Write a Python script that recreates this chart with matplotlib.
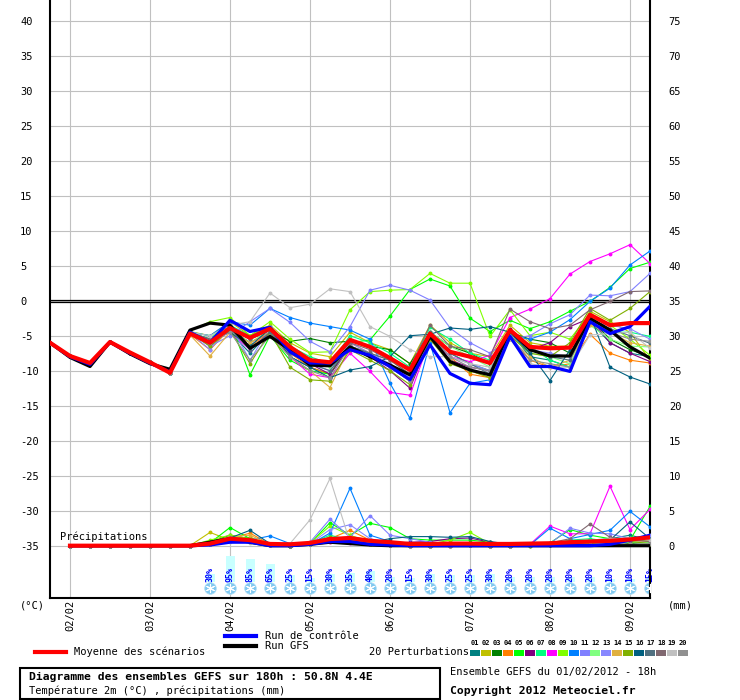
import matplotlib
matplotlib.use("Agg")
import matplotlib.pyplot as plt
from matplotlib.lines import Line2D
from matplotlib.patches import Rectangle

plt.rcParams['font.family'] = ['DejaVu Sans Mono', 'DejaVu Sans']

W, H = 740, 700

# ---------------- data ----------------
temp_ticks = [-35, -30, -25, -20, -15, -10, -5, 0, 5, 10, 15, 20, 25, 30, 35, 40]
mm_ticks = [0, 5, 10, 15, 20, 25, 30, 35, 40, 45, 50, 55, 60, 65, 70, 75]
date_labels = ['02/02', '03/02', '04/02', '05/02', '06/02', '07/02', '08/02', '09/02']
date_steps = [1, 5, 9, 13, 17, 21, 25, 29]

# temperature (6-hourly steps 0..30)
mean_t = [-6.0, -7.9, -8.9, -5.9, -7.4, -8.8, -10.3,
          -4.7, -6.0, -3.9, -5.3, -4.0, -6.6, -8.5, -8.8, -5.6, -6.6, -8.2, -9.9,
          -4.7, -7.3, -8.0, -8.9, -4.2, -6.6, -6.8, -6.7, -2.0, -3.5, -3.2, -3.2]
control_t = [-6.0, -8.0, -9.1, -5.9, -7.5, -8.9, -10.2,
             -4.5, -6.0, -2.8, -4.4, -3.8, -7.3, -8.9, -8.9, -7.0, -7.8, -9.4, -11.3,
             -6.3, -10.4, -11.8, -12.0, -5.1, -9.4, -9.4, -10.1, -3.0, -4.7, -3.7, -0.8]
gfs_t = [-6.0, -8.1, -9.4, -5.9, -7.6, -9.0, -9.8,
         -4.2, -3.2, -3.5, -6.8, -5.1, -7.0, -9.2, -9.3, -6.6, -8.0, -9.2, -10.6,
         -5.1, -8.7, -9.9, -10.6, -4.2, -7.0, -7.9, -7.9, -2.5, -4.2, -6.6, -8.2]

T_START = [-6.0, -7.9, -8.9, -5.9, -7.4, -8.8, -10.3]
p01_t = [-4.6, -5.5, -4.5, -7.5, -4.5, -8.0, -9.5, -10.5, -6.5, -7.5, -9.5, -11.5, -5.0, -7.5, -9.0, -10.0, -4.5, -8.0, -8.5, -9.5, -3.0, -6.0, -7.5, -8.0]
p02_t = [-4.4, -5.0, -3.0, -5.0, -3.5, -6.0, -7.5, -8.0, -4.5, -6.0, -7.0, -9.0, -3.5, -6.0, -7.5, -8.0, -3.5, -6.0, -6.5, -6.5, -1.5, -3.0, -4.5, -8.5]
p03_t = [-4.5, -6.0, -3.8, -5.5, -4.2, -5.8, -5.4, -6.0, -5.8, -6.5, -7.0, -9.0, -4.5, -6.5, -7.5, -9.0, -4.5, -5.5, -6.0, -7.5, -2.5, -5.5, -7.0, -8.0]
p04_t = [-4.8, -7.0, -4.0, -6.5, -4.5, -7.5, -9.5, -10.5, -6.0, -7.5, -8.5, -10.5, -5.0, -8.0, -10.5, -11.0, -5.5, -8.5, -9.5, -9.0, -4.8, -7.5, -8.5, -8.9]
p05_t = [-4.5, -5.5, -3.0, -10.6, -5.0, -8.5, -10.0, -10.5, -6.0, -5.6, -2.2, 1.6, 3.1, 2.1, -2.5, -4.4, -2.8, -4.0, -3.0, -1.5, -0.1, 1.9, 4.6, 5.5]
p06_t = [-4.6, -6.5, -4.0, -6.0, -4.5, -7.5, -9.0, -10.5, -6.5, -8.0, -10.0, -12.5, -5.5, -8.5, -9.5, -10.0, -4.0, -7.0, -6.0, -3.7, -2.5, -6.0, -7.5, -8.7]
p07_t = [-4.5, -5.0, -3.5, -5.0, -3.8, -6.5, -8.0, -9.0, -5.0, -6.0, -7.5, -9.5, -3.8, -5.5, -7.5, -8.5, -4.5, -6.5, -8.5, -9.5, -2.5, -4.5, -4.5, -5.1]
p08_t = [-4.6, -6.0, -4.5, -7.0, -4.5, -8.0, -10.5, -11.0, -7.5, -10.1, -13.1, -13.5, -5.5, -8.0, -8.7, -7.8, -2.4, -1.2, 0.3, 3.8, 5.6, 6.7, 8.0, 5.3]
p09_t = [-4.3, -3.0, -2.4, -5.0, -3.0, -5.5, -7.4, -7.3, -1.3, 1.3, 1.5, 1.6, 3.9, 2.5, 2.5, -5.1, -1.3, -5.0, -4.5, -5.5, -1.8, -3.5, -5.5, -7.8]
p10_t = [-4.5, -5.0, -3.0, -3.5, -1.1, -2.4, -3.2, -3.7, -4.2, -5.5, -11.8, -16.8, -6.0, -16.0, -11.8, -11.3, -5.0, -5.5, -4.5, -2.7, -0.1, 1.8, 5.1, 7.1]
p11_t = [-4.5, -6.5, -5.0, -3.0, -1.1, -3.1, -5.8, -7.3, -3.7, 1.5, 2.2, 1.5, 0.1, -3.9, -6.0, -7.5, -5.5, -5.0, -3.3, -2.0, 0.8, 0.7, 1.3, 3.9]
p12_t = [-4.5, -5.5, -4.0, -6.0, -4.2, -7.0, -8.5, -9.5, -5.5, -6.5, -8.0, -10.0, -4.5, -6.5, -8.0, -9.5, -5.0, -7.5, -8.0, -9.0, -3.5, -5.5, -6.5, -6.6]
p13_t = [-4.6, -7.0, -3.5, -8.5, -3.8, -7.0, -9.0, -10.0, -6.0, -7.5, -9.0, -11.0, -5.0, -8.0, -9.0, -10.0, -5.0, -7.0, -7.5, -8.0, -3.0, -3.5, -4.0, -5.5]
p14_t = [-4.9, -7.9, -4.5, -6.0, -4.5, -8.0, -10.0, -12.4, -6.5, -8.0, -9.5, -11.5, -5.5, -8.5, -10.0, -11.0, -5.5, -8.0, -9.5, -8.5, -3.5, -4.5, -6.0, -6.5]
p15_t = [-4.6, -6.5, -4.2, -9.0, -4.5, -9.5, -11.3, -11.5, -7.0, -8.5, -10.0, -12.0, -5.5, -9.0, -10.0, -11.0, -5.0, -7.5, -8.0, -6.0, -1.1, -2.8, -1.1, 1.3]
p16_t = [-4.6, -5.5, -4.5, -6.5, -4.0, -8.0, -9.5, -11.0, -9.9, -9.4, -8.0, -5.0, -4.8, -3.9, -4.1, -3.7, -4.5, -7.5, -11.4, -7.0, -2.0, -9.5, -10.9, -11.9]
p17_t = [-4.5, -6.0, -4.0, -7.0, -4.5, -7.5, -9.0, -10.0, -6.5, -7.5, -8.5, -10.5, -4.5, -7.5, -9.0, -10.5, -4.5, -7.0, -8.0, -8.5, -2.5, -4.0, -5.0, -6.1]
p18_t = [-4.5, -5.5, -3.5, -5.5, -4.0, -7.0, -8.5, -9.0, -6.0, -7.0, -8.5, -9.5, -3.5, -6.5, -7.0, -8.0, -1.2, -3.0, -4.0, -3.5, -1.3, -0.1, 1.3, 1.4]
p19_t = [-4.5, -5.0, -3.5, -3.0, 1.1, -1.0, -0.5, 1.7, 1.3, -3.7, -5.1, -7.0, -8.0, -8.0, -9.0, -9.5, -5.5, -9.0, -9.5, -9.5, -4.9, -4.7, -4.5, -6.8]
p20_t = [-4.5, -6.0, -4.5, -8.5, -5.0, -8.0, -10.0, -11.0, -6.5, -8.0, -9.5, -11.5, -5.0, -8.0, -9.5, -10.0, -5.0, -8.5, -9.0, -9.5, -3.0, -4.5, -5.5, -5.8]

# precipitation (mm per 6h, steps 1..30)
mean_p = [0, 0, 0, 0, 0, 0, 0, 0.3, 1.0, 0.8, 0.25, 0.2, 0.4, 0.95, 1.1, 0.7, 0.5, 0.25,
          0.25, 0.3, 0.3, 0.25, 0.25, 0.3, 0.35, 0.5, 0.6, 0.7, 0.9, 1.2]
control_p = [0, 0, 0, 0, 0, 0, 0, 0.1, 0.5, 0.5, 0.0, 0.0, 0.2, 0.6, 0.6, 0.2, 0.1, 0.0,
             0.0, 0.0, 0.0, 0.0, 0.0, 0.0, 0.0, 0.0, 0.0, 0.2, 0.8, 1.5]
gfs_p = [0, 0, 0, 0, 0, 0, 0, 0.5, 1.0, 0.5, 0.0, 0.0, 0.2, 0.5, 0.3, 0.1, 0.0, 0.0,
         0.0, 0.0, 0.0, 0.0, 0.0, 0.0, 0.0, 0.0, 0.0, 0.0, 0.0, 0.0]
P_START = [0, 0, 0, 0, 0, 0, 0]
p01_p = [0.6, 1.2, 0.8, 0.2, 0.0, 0.3, 0.8, 0.6, 0.3, 0.1, 0.0, 0.0, 0.2, 0.3, 0.1, 0.0, 0.2, 0.3, 0.5, 0.8, 1.0, 1.5, 0.8]
p02_p = [1.9, 0.8, 1.2, 0.1, 0.0, 0.2, 0.6, 1.0, 0.5, 0.2, 0.1, 0.0, 0.1, 0.2, 0.0, 0.0, 0.1, 0.2, 0.4, 0.6, 0.5, 0.8, 1.2]
p03_p = [0.5, 1.5, 1.0, 0.3, 0.0, 0.4, 1.2, 1.0, 0.4, 0.1, 0.0, 0.1, 0.2, 0.1, 0.0, 0.0, 0.0, 0.1, 0.2, 0.4, 0.6, 0.3, 0.5]
p04_p = [0.3, 1.0, 1.8, 0.2, 0.0, 0.5, 1.0, 2.2, 0.8, 0.3, 0.1, 0.0, 0.0, 0.1, 0.0, 0.0, 0.1, 0.2, 0.3, 0.5, 0.6, 0.8, 0.6]
p05_p = [0.4, 2.6, 1.0, 0.2, 0.0, 0.3, 3.3, 1.5, 3.2, 2.6, 1.0, 0.8, 0.8, 0.8, 0.5, 0.2, 0.3, 0.4, 2.3, 1.5, 1.0, 0.8, 5.6]
p06_p = [0.2, 0.8, 0.6, 0.1, 0.0, 0.2, 0.8, 0.6, 0.4, 0.3, 0.5, 0.6, 1.0, 1.1, 0.5, 0.2, 0.1, 0.2, 0.3, 0.4, 0.6, 0.8, 1.0]
p07_p = [0.3, 1.0, 0.8, 0.3, 0.0, 0.3, 1.5, 0.8, 0.3, 0.2, 0.0, 0.0, 0.1, 0.2, 0.1, 0.0, 0.1, 0.3, 0.8, 1.0, 0.6, 0.5, 0.4]
p08_p = [0.2, 0.8, 0.9, 0.1, 0.0, 0.2, 0.6, 0.4, 0.3, 0.1, 0.0, 0.0, 0.0, 0.1, 0.0, 0.0, 0.2, 2.8, 1.7, 1.7, 8.5, 2.3, 5.2]
p09_p = [0.8, 1.5, 1.0, 0.2, 0.0, 0.4, 2.8, 1.5, 0.5, 0.3, 0.1, 0.2, 0.8, 1.9, 0.3, 0.0, 0.1, 0.3, 0.5, 0.4, 0.6, 0.8, 0.7]
p10_p = [0.4, 1.2, 0.8, 1.4, 0.3, 0.2, 1.8, 8.2, 1.5, 0.6, 0.2, 0.1, 0.1, 0.2, 0.0, 0.0, 0.1, 2.5, 1.0, 1.6, 2.2, 4.9, 2.7]
p11_p = [0.3, 0.9, 0.6, 0.3, 0.2, 0.5, 3.8, 1.2, 4.3, 1.5, 1.0, 0.5, 0.2, 0.1, 0.0, 0.0, 0.1, 0.3, 2.5, 1.8, 1.7, 1.0, 1.5]
p12_p = [0.3, 0.7, 0.5, 0.1, 0.0, 0.2, 0.8, 0.6, 0.3, 0.2, 0.1, 0.0, 0.0, 0.1, 0.0, 0.0, 0.1, 0.2, 0.3, 0.4, 0.5, 0.6, 0.4]
p13_p = [0.2, 1.0, 0.7, 0.2, 0.0, 0.3, 2.3, 3.0, 1.0, 0.4, 0.1, 0.0, 0.1, 0.1, 0.0, 0.0, 0.1, 0.2, 0.5, 0.7, 0.8, 1.0, 1.2]
p14_p = [0.5, 1.3, 1.5, 0.2, 0.0, 0.3, 1.0, 1.3, 0.8, 0.2, 0.0, 0.0, 0.0, 0.1, 0.0, 0.0, 0.1, 0.2, 0.3, 0.4, 0.5, 0.6, 0.8]
p15_p = [0.4, 0.9, 0.8, 0.2, 0.0, 0.3, 1.2, 0.9, 0.4, 0.2, 0.1, 0.0, 0.1, 0.2, 0.0, 0.0, 0.0, 0.1, 0.2, 0.3, 0.5, 0.6, 0.3]
p16_p = [0.6, 1.1, 2.2, 0.3, 0.0, 0.4, 1.0, 0.6, 0.5, 1.0, 1.3, 1.3, 1.2, 1.3, 0.6, 0.2, 0.1, 0.1, 0.3, 0.5, 0.8, 3.4, 1.0]
p17_p = [0.3, 0.8, 0.7, 0.2, 0.0, 0.3, 0.9, 0.7, 0.3, 0.1, 0.0, 0.0, 0.0, 0.1, 0.0, 0.0, 0.1, 0.2, 0.4, 0.5, 0.6, 0.7, 0.9]
p18_p = [0.2, 0.7, 0.5, 0.1, 0.0, 0.2, 0.7, 0.5, 0.3, 0.1, 0.0, 0.0, 0.0, 0.1, 0.0, 0.0, 0.1, 0.4, 1.0, 3.1, 1.2, 0.8, 0.6]
p19_p = [0.2, 0.6, 0.4, 0.1, 0.3, 3.7, 9.6, 0.5, 0.3, 0.1, 0.0, 0.0, 0.0, 0.1, 0.0, 0.0, 0.1, 0.3, 0.5, 0.7, 1.0, 1.1, 0.8]
p20_p = [0.3, 0.9, 0.6, 0.2, 0.0, 0.3, 1.0, 0.8, 0.4, 0.1, 0.0, 0.0, 0.0, 0.1, 0.0, 0.0, 0.1, 0.2, 0.4, 0.5, 0.3, 0.2, 0.3]

member_colors = ['#008080', '#c0c000', '#008000', '#ff8000', '#00ff00', '#800080', '#00ff80',
                 '#ff00ff', '#80ff00', '#0080ff', '#8080ff', '#80ff80', '#8888ff', '#e0b040',
                 '#80b000', '#006080', '#507080', '#806870', '#c0c0c0', '#909090']
member_labels = ['01', '02', '03', '04', '05', '06', '07', '08', '09', '10',
                 '11', '12', '13', '14', '15', '16', '17', '18', '19', '20']

snow_pct = [30, 95, 85, 65, 25, 15, 30, 35, 40, 20, 15, 30, 25, 25, 30, 20, 20, 20, 20, 20, 10, 10, 15]
snow_first_step = 8

members_t = [p01_t, p02_t, p03_t, p04_t, p05_t, p06_t, p07_t, p08_t, p09_t, p10_t,
             p11_t, p12_t, p13_t, p14_t, p15_t, p16_t, p17_t, p18_t, p19_t, p20_t]
members_p = [p01_p, p02_p, p03_p, p04_p, p05_p, p06_p, p07_p, p08_p, p09_p, p10_p,
             p11_p, p12_p, p13_p, p14_p, p15_p, p16_p, p17_p, p18_p, p19_p, p20_p]

PRECIP_BASE = -35  # precipitation 0 mm drawn at -35 on the temperature scale

# ---------------- figure ----------------
fig = plt.figure(figsize=(W / 100, H / 100), dpi=100)
ax = fig.add_axes([50 / W, 1 - 598 / H, 600 / W, 598 / H])
ax.set_xlim(0, 30)
ylo, yhi = (300.7 - 598) / 7, 300.7 / 7
ax.set_ylim(ylo, yhi)

ax.set_yticks(temp_ticks)
ax.set_yticklabels([str(v) for v in temp_ticks], fontsize=7.5)
for lbl in ax.get_yticklabels():
    lbl.set_horizontalalignment('left')
ax.tick_params(axis='y', length=0, pad=21.6)
ax.set_xticks(date_steps)
ax.set_xticklabels(date_labels, rotation=90, fontsize=7.5)
ax.tick_params(axis='x', length=0, pad=1.5)
ax.grid(True, color='#c0c0c0', lw=0.8, zorder=0)
ax.set_axisbelow(True)
for s in ['left', 'right', 'bottom']:
    ax.spines[s].set_linewidth(1.5)
    ax.spines[s].set_color('black')
ax.spines['top'].set_visible(False)

ax2 = ax.twinx()
ax2.set_ylim(ylo - PRECIP_BASE, yhi - PRECIP_BASE)
ax2.set_yticks(mm_ticks)
ax2.set_yticklabels([str(v) for v in mm_ticks], fontsize=7.5)
ax2.tick_params(axis='y', length=0, pad=13.5)
for s in ['left', 'right', 'bottom', 'top']:
    ax2.spines[s].set_visible(False)

# zero line (double)
ax.axhline(0.16, color='black', lw=0.9, zorder=3)
ax.axhline(-0.13, color='black', lw=0.9, zorder=3)

xs_t = list(range(0, 31))
xs_p = list(range(1, 31))

# snow bars, percentages and flakes
bar_base = (300.7 - 582) / 7
for k, pct in enumerate(snow_pct):
    xi = snow_first_step + k
    hgt = pct * 0.27 / 7
    ax.add_patch(Rectangle((xi - 0.2, bar_base), 0.45, hgt, color='#c8ffff', zorder=1, lw=0))
    ax.text(xi, bar_base + 0.05, f'{pct}%', rotation=90, ha='center', va='bottom',
            fontsize=6, color='#0000ff', fontweight='bold', zorder=2)
flake_y = (300.7 - 588) / 7
fx = [snow_first_step + k for k in range(len(snow_pct))]
ax.scatter(fx, [flake_y] * len(fx), s=70, color='#80c8f0', edgecolors='#b0e0f8', lw=0.6, zorder=2)
ax.scatter(fx, [flake_y] * len(fx), s=35, marker=(6, 2, 0), color='white', lw=0.8, zorder=3)

# members
for col, tail, pr in zip(member_colors, members_t, members_p):
    ax.plot(xs_t, T_START + tail, color=col, lw=0.8, marker='o', ms=1.8, zorder=4)
    ax.plot(xs_p, [PRECIP_BASE + v for v in P_START + pr], color=col, lw=0.8,
            marker='o', ms=1.8, zorder=4)

ax.plot(xs_t, gfs_t, color='black', lw=2.3, zorder=5)
ax.plot(xs_p, [PRECIP_BASE + v for v in gfs_p], color='black', lw=2.3, zorder=5)
ax.plot(xs_t, control_t, color='#0000ff', lw=2.3, zorder=6)
ax.plot(xs_p, [PRECIP_BASE + v for v in control_p], color='#0000ff', lw=2.3, zorder=6)
ax.plot(xs_t, mean_t, color='#ff0000', lw=3.0, zorder=7)
ax.plot(xs_p, [PRECIP_BASE + v for v in mean_p], color='#ff0000', lw=3.0, zorder=7)

ax.text(0.5, (300.7 - 537) / 7, 'Précipitations', fontsize=7.5, ha='left', va='center', zorder=8)


# ---------------- figure texts ----------------
def fx_(x):
    return x / W


def fy_(y):
    return 1 - y / H


fig.text(fx_(20), fy_(606), '(°C)', fontsize=7.5, ha='left', va='center')
fig.text(fx_(668), fy_(606), '(mm)', fontsize=7.5, ha='left', va='center')

fig.add_artist(Line2D([fx_(225), fx_(256)], [fy_(636)] * 2, color='#0000ff', lw=3))
fig.text(fx_(265), fy_(636), 'Run de contrôle', fontsize=7.5, ha='left', va='center')
fig.add_artist(Line2D([fx_(225), fx_(256)], [fy_(646)] * 2, color='black', lw=3))
fig.text(fx_(265), fy_(646), 'Run GFS', fontsize=7.5, ha='left', va='center')
fig.add_artist(Line2D([fx_(35), fx_(66)], [fy_(652)] * 2, color='#ff0000', lw=3))
fig.text(fx_(74), fy_(652), 'Moyenne des scénarios', fontsize=7.5, ha='left', va='center')

fig.text(fx_(369), fy_(652), '20 Perturbations', fontsize=7.5, ha='left', va='center')
for k, (col, lab) in enumerate(zip(member_colors, member_labels)):
    x0 = 470 + k * 10.95
    fig.add_artist(Rectangle((fx_(x0), fy_(656)), 10 / W, 6 / H, color=col,
                             transform=fig.transFigure, lw=0))
    fig.text(fx_(x0 + 5), fy_(643), lab, fontsize=5, ha='center', va='center', fontweight='bold')

fig.add_artist(Rectangle((fx_(20), fy_(699)), 420 / W, 31 / H, fill=False, ec='black', lw=1.5,
                         transform=fig.transFigure))
fig.text(fx_(29), fy_(677), 'Diagramme des ensembles GEFS sur 180h : 50.8N 4.4E',
         fontsize=8.2, fontweight='bold', ha='left', va='center')
fig.text(fx_(29), fy_(691), 'Température 2m (°C) , précipitations (mm)',
         fontsize=7.5, ha='left', va='center')
fig.text(fx_(450), fy_(672), 'Ensemble GEFS du 01/02/2012 - 18h', fontsize=7.5,
         ha='left', va='center')
fig.text(fx_(450), fy_(691), 'Copyright 2012 Meteociel.fr', fontsize=8.2,
         fontweight='bold', ha='left', va='center')

fig.savefig('out.png', dpi=100)
